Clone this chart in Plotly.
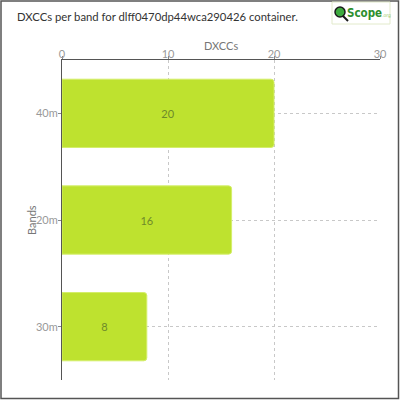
import plotly.graph_objects as go

bands = ["40m", "20m", "30m"]
dxccs = [20, 16, 8]
x_ticks = [0, 10, 20, 30]
title_text = "DXCCs per band for dlff0470dp44wca290426 container."

L, R, T, B = 62, 20, 60, 20
PW, PH = 400 - L - R, 400 - T - B

def px(x):
    return (x - L) / PW

def py(y):
    return (400 - B - y) / PH

fig = go.Figure()
fig.add_trace(go.Bar(
    y=bands, x=dxccs, orientation="h",
    marker=dict(color="#BEE22F", line=dict(color="#D4EE6A", width=1)),
    width=0.64,
    text=[str(v) for v in dxccs], textposition="inside",
    insidetextanchor="middle",
    textfont=dict(family="Lato", size=11, color="#6E8A2A"),
    hoverinfo="skip",
))

fig.update_layout(
    width=400, height=400,
    margin=dict(l=L, r=R, t=T, b=B, autoexpand=False),
    paper_bgcolor="white", plot_bgcolor="white",
    showlegend=False,
    barcornerradius=3,
    font=dict(family="Lato", color="#666"),
    title=dict(text=title_text, x=17 / 400, xanchor="left", y=1 - 17 / 400, yanchor="middle",
               font=dict(family="Lato", size=11.3, color="#333")),
    xaxis=dict(
        side="top", range=[0, 30], tickvals=x_ticks,
        showline=True, linecolor="#555", linewidth=1,
        ticks="outside", ticklen=3, tickcolor="#888",
        ticklabelstandoff=-6,
        showgrid=True, gridcolor="#C8C8C8", griddash="3px,3px", gridwidth=1,
        zeroline=False, automargin=False,
        tickfont=dict(family="Lato", size=11, color="#999"),
    ),
    yaxis=dict(
        categoryorder="array", categoryarray=bands[::-1],
        showline=True, linecolor="#555", linewidth=1,
        ticks="outside", ticklen=3, tickcolor="#888",
        ticklabelstandoff=-2,
        showgrid=True, gridcolor="#C8C8C8", griddash="3px,3px", gridwidth=1,
        automargin=False,
        tickfont=dict(family="Lato", size=11, color="#999"),
    ),
    shapes=[
        dict(type="rect", xref="paper", yref="paper", x0=px(1), x1=px(398.5), y0=py(398.5), y1=py(1),
             line=dict(color="#555", width=1.5), fillcolor="rgba(0,0,0,0)", layer="below"),
        dict(type="rect", xref="paper", yref="paper", x0=px(332), x1=px(390), y0=py(24), y1=py(2),
             line=dict(color="#E2EACB", width=1), fillcolor="rgba(0,0,0,0)", layer="below"),
        dict(type="line", xref="paper", yref="paper", x0=px(342), x1=px(348), y0=py(15), y1=py(21),
             line=dict(color="#1A1A1A", width=2)),
        dict(type="circle", xref="paper", yref="paper", x0=px(335), x1=px(345), y0=py(17), y1=py(7),
             line=dict(color="#1A1A1A", width=1.5), fillcolor="#3DAA3D"),
    ],
    annotations=[
        dict(xref="paper", yref="paper", x=px(345), y=py(13), xanchor="left", yanchor="middle",
             text="<b>Scope</b><span style='font-size:5px;color:#9CCB6A'>.org</span>", showarrow=False,
             font=dict(family="DejaVu Sans Condensed, Liberation Sans Narrow", size=11.5, color="#2E8F2E")),
        dict(xref="paper", yref="paper", x=0.5, y=py(45), xanchor="center", yanchor="middle",
             text="DXCCs", showarrow=False,
             font=dict(family="Lato", size=11, color="#777")),
        dict(xref="paper", yref="paper", x=px(31), y=0.5, xanchor="center", yanchor="middle",
             text="Bands", showarrow=False, textangle=-90,
             font=dict(family="Lato", size=11, color="#777")),
    ],
)

fig.write_html("out.html", config={"displayModeBar": False},
               post_script="document.body.style.margin='0px';")
